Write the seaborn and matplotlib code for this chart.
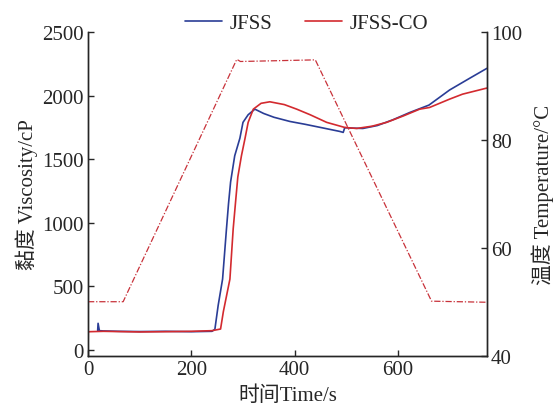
import matplotlib
matplotlib.use("Agg")
import matplotlib.pyplot as plt
import seaborn as sns

# viscosity curves (time in s, viscosity in cP)
t_jfss = [18.7, 19.5, 22, 30, 60, 100, 150, 200, 240, 245.6, 252, 260.5, 268, 272, 276, 284, 294,
          300, 310, 323, 340, 360, 391, 420, 450, 487, 494, 497, 510, 532, 560, 590, 623, 660,
          700, 740, 772]
v_jfss = [150, 208, 150, 148, 145, 143, 145, 142, 145, 161, 350, 556, 950, 1150, 1320, 1527, 1665,
          1790, 1850, 1894, 1860, 1830, 1797, 1775, 1750, 1719, 1711, 1748, 1745, 1742, 1765, 1810,
          1868, 1926, 2045, 2140, 2215]

t_co = [0, 0.5, 3, 30, 100, 150, 200, 240, 256.6, 262, 274.7, 281, 286, 290, 297, 304, 310, 320,
        335, 352, 380, 404, 430, 462, 497, 520, 550, 578, 610, 642, 661, 700, 725, 772]
v_co = [-30, 140, 142, 145, 140, 142, 145, 150, 163, 300, 556, 950, 1180, 1360, 1527, 1665, 1790,
        1894, 1940, 1952, 1930, 1894, 1850, 1790, 1750, 1742, 1760, 1790, 1840, 1894, 1907, 1973,
        2012, 2060]

# temperature program
t_temp = [0, 68, 288, 295, 440, 665, 772]
temp = [50, 50, 94.9, 94.5, 94.8, 50.1, 49.9]

sns.set_style("ticks")
plt.rcParams["font.family"] = ["Liberation Serif", "Noto Sans CJK SC"]
plt.rcParams["xtick.direction"] = "in"
plt.rcParams["ytick.direction"] = "in"

fig = plt.figure(figsize=(5.57, 4.10), dpi=100)
ax = fig.add_axes([0.158, 0.130, 0.716, 0.790])

sns.lineplot(x=t_jfss, y=v_jfss, ax=ax, color="#2a3d96", lw=1.2, label="JFSS", sort=False)
sns.lineplot(x=t_co, y=v_co, ax=ax, color="#d32a2f", lw=1.2, label="JFSS-CO", sort=False)

ax2 = ax.twinx()
sns.lineplot(x=t_temp, y=temp, ax=ax2, color="#c8323a", lw=0.9, sort=False,
             dashes=False)
ax2.lines[0].set_dashes([5, 1.5, 1, 1.5])

ax.set_xlim(0, 772)
ax.set_ylim(-47, 2503)
ax2.set_ylim(40, 100)
ax.set_xticks([0, 200, 400, 600])
ax.set_yticks([0, 500, 1000, 1500, 2000, 2500])
ax2.set_yticks([40, 60, 80, 100])

for a in (ax, ax2):
    a.spines["top"].set_visible(False)
    a.tick_params(labelsize=15, length=4, width=1, pad=3)
    for s in a.spines.values():
        s.set_linewidth(1)

ax.set_xlabel("时间Time/s", fontsize=15, labelpad=5)
ax.set_ylabel("黏度 Viscosity/cP", fontsize=15, labelpad=3)
ax2.set_ylabel("温度 Temperature/°C", fontsize=15, labelpad=7)

h, l = ax.get_legend_handles_labels()
ax.get_legend().remove()
fig.legend(h, l, loc="upper center", bbox_to_anchor=(0.55, 1.01), ncol=2, frameon=False,
           fontsize=15, handlelength=1.8, handletextpad=0.35, columnspacing=1.55)

fig.savefig("out.png", dpi=100)
